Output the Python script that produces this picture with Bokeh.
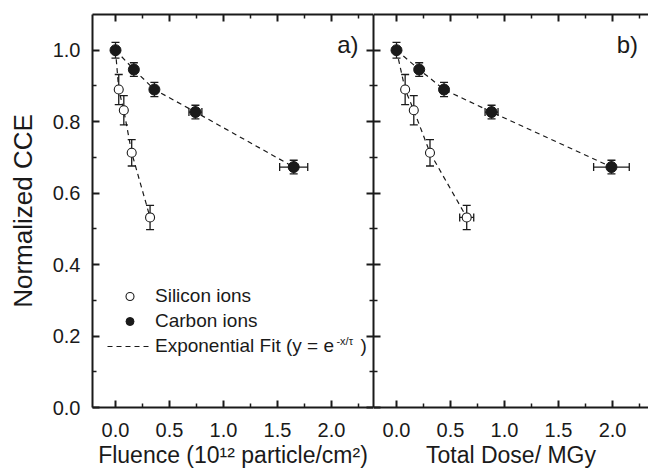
from bokeh.plotting import figure
from bokeh.models import (ColumnDataSource, Whisker, TeeHead, Range1d, LinearAxis,
                          FixedTicker, PrintfTickFormatter, CustomJSTickFormatter,
                          Legend, LegendItem, Label)
from bokeh.layouts import row
from bokeh.embed import file_html
from bokeh.resources import INLINE

FONT = "Liberation Sans"
INK = "#1a1a1a"

# ---------------- data ----------------
carbon_cce = [1.000, 0.946, 0.890, 0.827, 0.673]
carbon_cce_err = [0.022, 0.019, 0.020, 0.019, 0.019]
carbon_fluence = [0.00, 0.17, 0.36, 0.74, 1.65]
carbon_fluence_err = [0.0, 0.0, 0.0, 0.06, 0.13]
carbon_dose = [0.00, 0.21, 0.44, 0.88, 1.99]
carbon_dose_err = [0.0, 0.0, 0.0, 0.06, 0.165]

silicon_cce = [0.890, 0.832, 0.713, 0.532]
silicon_cce_err = [0.042, 0.041, 0.037, 0.034]
silicon_fluence = [0.03, 0.077, 0.15, 0.32]
silicon_fluence_err = [0.0, 0.0, 0.0, 0.0]
silicon_dose = [0.08, 0.16, 0.31, 0.65]
silicon_dose_err = [0.0, 0.0, 0.0, 0.065]

x_major_ticks = [0.0, 0.5, 1.0, 1.5, 2.0]
x_minor_ticks = [0.25, 0.75, 1.25, 1.75, 2.25]
y_major_ticks = [0.0, 0.2, 0.4, 0.6, 0.8, 1.0]
y_minor_ticks = [0.1, 0.3, 0.5, 0.7, 0.9]


def style_axis(ax, labels=True):
    ax.axis_line_width = 2
    ax.axis_line_color = INK
    ax.major_tick_in = 7
    ax.major_tick_out = 0
    ax.minor_tick_in = 4
    ax.minor_tick_out = 0
    ax.major_tick_line_width = 2
    ax.minor_tick_line_width = 1.5
    ax.major_tick_line_color = INK
    ax.minor_tick_line_color = INK
    ax.major_label_text_font = FONT
    ax.major_label_text_font_size = "20px"
    ax.major_label_text_color = INK
    ax.axis_label_text_font = FONT
    ax.axis_label_text_font_style = "normal"
    ax.axis_label_text_font_size = "23px"
    ax.axis_label_text_color = INK
    if not labels:
        ax.formatter = CustomJSTickFormatter(code="return ''")
        ax.major_label_standoff = 0
    else:
        ax.formatter = PrintfTickFormatter(format="%.1f")


def make_panel(cx, cxerr, sx, sxerr, x_end, frame_w, tag, tag_x, xlabel, first):
    p = figure(frame_width=frame_w, frame_height=393,
               x_range=Range1d(-0.213, x_end), y_range=Range1d(0, 1.1),
               output_backend="svg", toolbar_location=None,
               min_border_left=92 if first else 0, min_border_right=0,
               min_border_top=14, min_border_bottom=0,
               outline_line_color=None, background_fill_color="white",
               border_fill_color="white")
    p.grid.visible = False
    xt = FixedTicker(ticks=x_major_ticks, minor_ticks=x_minor_ticks)
    yt = FixedTicker(ticks=y_major_ticks, minor_ticks=y_minor_ticks)

    p.xaxis.ticker = xt
    p.yaxis.ticker = yt
    for ax in p.xaxis:
        style_axis(ax, True)
        ax.major_label_standoff = 15
        ax.axis_label = xlabel
        ax.axis_label_standoff = 2
    for ax in p.yaxis:
        style_axis(ax, first)
        if first:
            ax.major_label_standoff = 12
            ax.axis_label = "Normalized CCE"
            ax.axis_label_text_font_size = "26px"
            ax.axis_label_standoff = 12

    top = LinearAxis(ticker=FixedTicker(ticks=x_major_ticks, minor_ticks=x_minor_ticks))
    style_axis(top, False)
    p.add_layout(top, "above")
    if first:
        right = LinearAxis(ticker=FixedTicker(ticks=y_major_ticks, minor_ticks=y_minor_ticks))
        style_axis(right, False)
        p.add_layout(right, "right")

    # fits (dashed), starting from the unirradiated point
    fit_c = p.line(cx, carbon_cce, line_dash="5 4", line_width=1.2, line_color=INK)
    p.line([cx[0]] + sx, [carbon_cce[0]] + silicon_cce, line_dash="5 4",
           line_width=1.2, line_color=INK)

    # vertical error bars
    for xs, ys, es in ((cx, carbon_cce, carbon_cce_err), (sx, silicon_cce, silicon_cce_err)):
        src = ColumnDataSource(dict(x=xs, lo=[y - e for y, e in zip(ys, es)],
                                    hi=[y + e for y, e in zip(ys, es)]))
        p.add_layout(Whisker(source=src, base="x", lower="lo", upper="hi",
                             dimension="height", line_width=1.3, line_color=INK,
                             lower_head=TeeHead(size=8, line_width=1.3, line_color=INK),
                             upper_head=TeeHead(size=8, line_width=1.3, line_color=INK)))
    # horizontal error bars
    for xs, es, ys in ((cx, cxerr, carbon_cce), (sx, sxerr, silicon_cce)):
        idx = [i for i, e in enumerate(es) if e > 0]
        if not idx:
            continue
        src = ColumnDataSource(dict(y=[ys[i] for i in idx],
                                    lo=[xs[i] - es[i] for i in idx],
                                    hi=[xs[i] + es[i] for i in idx]))
        p.add_layout(Whisker(source=src, base="y", lower="lo", upper="hi",
                             dimension="width", line_width=1.3, line_color=INK,
                             lower_head=TeeHead(size=8, line_width=1.3, line_color=INK),
                             upper_head=TeeHead(size=8, line_width=1.3, line_color=INK)))

    r_si = p.scatter(sx, silicon_cce, marker="circle", size=9, fill_color="white",
                     line_color=INK, line_width=1.1)
    r_c = p.scatter(cx, carbon_cce, marker="circle", size=11, fill_color=INK,
                    line_color=INK)

    p.add_layout(Label(x=tag_x, y=1.017, text=tag, text_font=FONT, text_font_size="24px",
                       text_align="right", text_baseline="middle", text_color=INK))

    if first:
        leg = Legend(items=[LegendItem(label="Silicon ions", renderers=[r_si]),
                            LegendItem(label="Carbon ions", renderers=[r_c]),
                            LegendItem(label="Exponential Fit (y = e     )", renderers=[fit_c])],
                     location=(15, 50), orientation="vertical",
                     glyph_width=45, glyph_height=20, spacing=3, label_standoff=3,
                     padding=0, margin=0, border_line_color=None,
                     background_fill_alpha=0, label_text_font=FONT,
                     label_text_font_size="19px", label_text_color=INK)
        p.add_layout(leg)
        p.add_layout(Label(x=2.046, y=0.185, text="-x/τ", text_font=FONT,
                           text_font_size="11px", text_baseline="middle", text_color=INK))
    return p


pa = make_panel(carbon_fluence, carbon_fluence_err, silicon_fluence, silicon_fluence_err,
                2.389, 281, "a)", 2.25, "Fluence (10¹² particle/cm²)", True)
pb = make_panel(carbon_dose, carbon_dose_err, silicon_dose, silicon_dose_err,
                2.333, 275, "b)", 2.236, "Total Dose/ MGy", False)

layout = row(pa, pb, spacing=0)
open("out.html", "w").write(file_html(layout, INLINE))
